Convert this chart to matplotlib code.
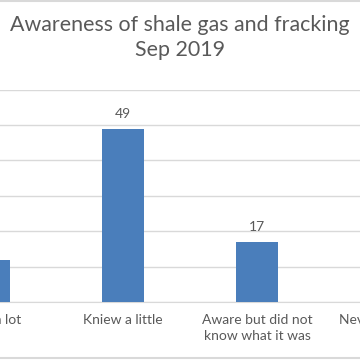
import matplotlib
matplotlib.use("Agg")
from matplotlib import pyplot as plt
from matplotlib.lines import Line2D
import numpy as np

# Data
categories = ["Knew a lot", "Kniew a little", "Aware but did not\nknow what it was", "Never heard of it"]
values = [12, 49, 17, 22]
title = "Awareness of shale gas and fracking\nSep 2019"

bar_color = "#4a7ebb"
text_color = "#595959"
grid_color = "#d9d9d9"

plt.rcParams['font.family'] = ['Lato', 'DejaVu Sans']

fig = plt.figure(figsize=(3.6, 3.6), dpi=100)
ax = fig.add_axes([0, 1 - 302 / 360, 1, (302 - 89.6) / 360])

x = np.arange(len(categories))
bars = ax.bar(x, values, width=0.31, color=bar_color, zorder=3)

# Data labels
for xi, v in zip(x, values):
    ax.text(xi, v + 2.5, str(v), ha='center', va='bottom', fontsize=10, color=text_color,
            clip_on=True)

# Category labels (drawn as text so that partly visible ones still show)
for xi, cat in zip(x, categories):
    ax.annotate(cat, xy=(xi, 0), xycoords=('data', 'axes fraction'),
                xytext=(0, -9), textcoords='offset points',
                ha='center', va='top', fontsize=10, color=text_color,
                linespacing=1.3, annotation_clip=False)

ax.set_xticks([])
ax.set_yticks(np.arange(0, 61, 10))
ax.set_ylim(0, 60)
ax.set_xlim(0.082, 2.769)
ax.yaxis.grid(True, color=grid_color, linewidth=1, zorder=0)
ax.tick_params(axis='y', left=False, labelleft=False)
for s in ['top', 'right', 'left']:
    ax.spines[s].set_visible(False)
ax.spines['bottom'].set_color(grid_color)

fig.text(0.5, 1 - 37.5 / 360, title, ha='center', va='center', fontsize=15.4,
         color=text_color, linespacing=1.3)

# Chart area borders
fig.add_artist(Line2D([0, 1], [1 - 1 / 360, 1 - 1 / 360], color=grid_color, linewidth=1.5))
fig.add_artist(Line2D([0, 1], [1 - 358 / 360, 1 - 358 / 360], color=grid_color, linewidth=1.5))

fig.savefig("out.png", dpi=100)
